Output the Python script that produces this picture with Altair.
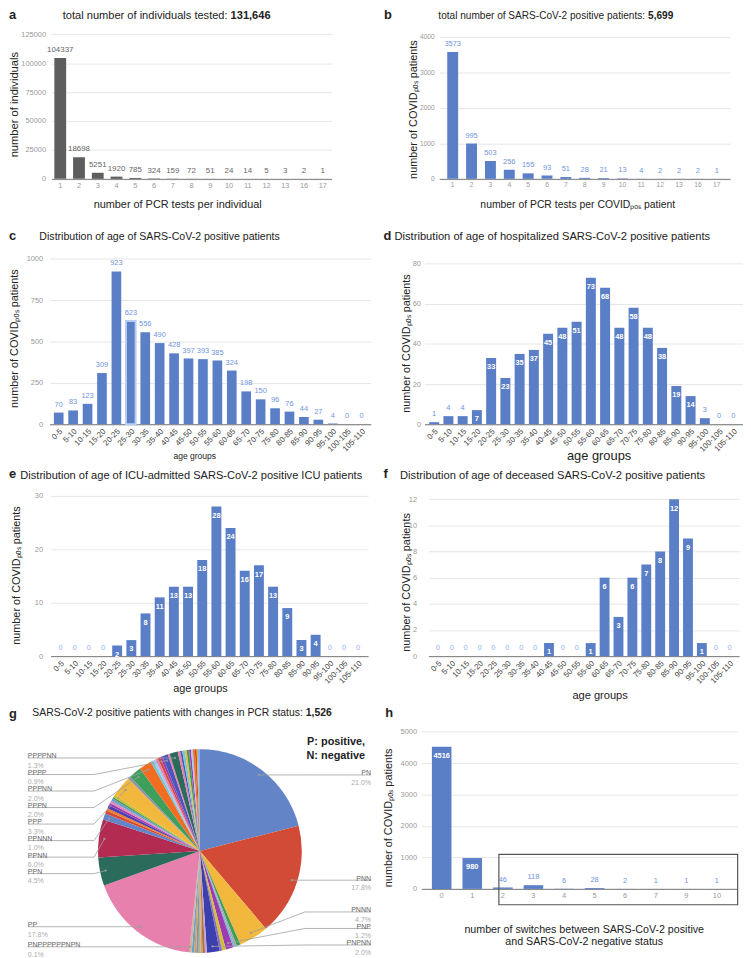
import math
import altair as alt
import pandas as pd

FONT = "Liberation Sans"

# ---------------- data ----------------
pcr_tests = ["1", "2", "3", "4", "5", "6", "7", "8", "9", "10", "11", "12", "13", "16", "17"]
individuals_per_tests = [104337, 18698, 5251, 1920, 785, 324, 159, 72, 51, 24, 14, 5, 3, 2, 1]
positives_per_tests = [3573, 995, 503, 256, 155, 93, 51, 28, 21, 13, 4, 2, 2, 2, 1]

age_groups = ["0-5", "5-10", "10-15", "15-20", "20-25", "25-30", "30-35", "35-40", "40-45",
              "45-50", "50-55", "55-60", "60-65", "65-70", "70-75", "75-80", "80-85", "85-90",
              "90-95", "95-100", "100-105", "105-110"]
age_positive = [70, 83, 123, 309, 923, 623, 556, 490, 428, 397, 393, 385, 324, 198, 150, 96, 76, 44, 27, 4, 0, 0]
age_hospitalized = [1, 4, 4, 7, 33, 23, 35, 37, 45, 48, 51, 73, 68, 48, 58, 48, 38, 19, 14, 3, 0, 0]
age_icu = [0, 0, 0, 0, 2, 3, 8, 11, 13, 13, 18, 28, 24, 16, 17, 13, 9, 3, 4, 0, 0, 0]
age_deceased = [0, 0, 0, 0, 0, 0, 0, 0, 1, 0, 0, 1, 6, 3, 6, 7, 8, 12, 9, 1, 0, 0]

switches = ["0", "1", "2", "3", "4", "5", "6", "7", "9", "10"]
switch_patients = [4516, 980, 46, 118, 6, 28, 2, 1, 1, 1]

# PCR status patterns (clockwise from 12 o'clock); "" = small unlabeled patterns
pattern_names = ["PN", "PNN", "PNNN", "", "", "", "PNP", "", "", "PNPNN",
                 "", "", "", "", "", "", "", "", "PNPPPPPPNPN",
                 "PP", "PPN", "PPNN", "PPNNN",
                 "", "", "", "", "", "", "", "",
                 "PPP", "", "PPPN", "PPPNN",
                 "", "", "", "", "",
                 "PPPP", "", "PPPPNN",
                 "", "", "", "", "", "", "", "", "", "", ""]
pattern_share = [21.0, 17.8, 4.7, 0.6, 0.3, 0.3, 1.2, 0.6, 0.4, 2.0,
                 0.3, 0.4, 0.3, 0.3, 0.4, 0.3, 0.4, 0.3, 0.1,
                 17.8, 4.5, 6.0, 1.0,
                 0.5, 0.4, 0.5, 0.4, 0.4, 0.4, 0.3, 0.4,
                 3.3, 0.4, 2.0, 2.0,
                 0.4, 0.4, 0.4, 0.4, 0.4,
                 0.9, 0.3, 1.3,
                 0.4, 0.3, 0.4, 0.3, 0.4, 0.3, 0.3, 0.3, 0.3, 0.2, 0.3]

# ---------------- styles ----------------
PIE_COLORS = ["#6484c8", "#d14b37", "#f1b83d", "#3e9e5b", "#a3a7ad", "#79b7cf", "#9c3cb4", "#d3c034", "#8a6cc1", "#3c3fae",
              "#c79ee0", "#a9753f", "#e58c6b", "#9ac27a", "#8d8fb2", "#d6a13c", "#6a9fcf", "#c9b3a0", "#b0a06c",
              "#e880ad", "#2b6b5b", "#b42b52", "#6484c8",
              "#d14b37", "#f17c2c", "#4a3fae", "#9c3cb4", "#e08cb8", "#6a9fcf", "#3e9e5b", "#cdbd2a",
              "#f1b83d", "#8d8fb2", "#3e9e5b", "#f26d21",
              "#6fc6d9", "#a9c8f0", "#e880ad", "#d14b37", "#9c3cb4",
              "#4a56b8", "#e880ad", "#2b6b5b",
              "#e880ad", "#4a56b8", "#6fc6d9", "#f1b83d", "#3e9e5b", "#9c3cb4", "#a9c8f0", "#f26d21", "#d14b37", "#cdbd2a", "#7baaf7"]
BLUE = "#5b7fc7"
LBLUE = "#6f95e0"
GRAYBAR = "#5e5e5e"

# layout (page pixels of the reference)
COL_X = [47, 425]
ROW_Y = [25, 245.5, 493, 727]
ROW_B = [175.5, 423, 657, 892.3]
CELL_W = 325
SHIFT_X = 2
T1 = 14  # baseline of the first-row titles


def label(text, x, y, size, weight="normal", align="left", color="#222", baseline="alphabetic"):
    return alt.Chart(pd.DataFrame({"t": [text]})).mark_text(
        align=align, baseline=baseline, fontSize=size, fontWeight=weight, color=color, font=FONT
    ).encode(text="t:N", x=alt.value(x), y=alt.value(y))


def title_pair(plain, bold, x, y, size):
    return [label(plain, x, y, size, align="right"), label(bold, x + 3, y, size, "bold")]


def bar_panel(cats, vals, col, row, x0, x1, ytop, ymax, ystep, *, color=BLUE, pad_in=0.3, pad_out=0.3,
              inside_min=10 ** 9, label_color=LBLUE, label_size=7.5, tick_size=7.5, xtick_size=None,
              ytitle="", ytitle_pos=(0, 0), ytitle_size=11, ylabel_pad=6,
              xtitle="", xtitle_pos=(0, 0), xtitle_size=11, xlabel_angle=0, xlabel_color="#999",
              highlight=None):
    H = ROW_B[row] - ROW_Y[row]
    ox, oy = COL_X[col], ROW_Y[row]
    r0, r1 = x0 - ox, x1 - ox
    df = pd.DataFrame({"cat": cats, "val": vals})
    base = alt.Chart(df)
    xaxis = alt.Axis(title=xtitle, titleX=xtitle_pos[0] - ox, titleY=xtitle_pos[1] - ROW_B[row],
                     titleBaseline="middle", titleFontSize=xtitle_size, titleFontWeight="normal",
                     titleColor="#222", labelAngle=xlabel_angle, labelFontSize=xtick_size or tick_size,
                     labelColor=xlabel_color, labelPadding=3, labelOverlap=False,
                     domainColor="#7a7a7a", ticks=False, grid=False)
    x = alt.X("cat:N", sort=None,
              scale=alt.Scale(domain=cats, range=[r0, r1], paddingInner=pad_in, paddingOuter=pad_out),
              axis=xaxis)
    tvals = list(range(0, ymax + 1, ystep))
    yaxis = alt.Axis(values=tvals, tickCount=len(tvals), format="d", offset=-r0, grid=True,
                     gridColor="#e6e6e6", domain=False, ticks=False, labelFontSize=tick_size,
                     labelColor="#999", labelPadding=ylabel_pad, labelOverlap=False, labelFlush=False,
                     title=ytitle, titleX=ytitle_pos[0] - x0,
                     titleY=ytitle_pos[1] - oy, titleBaseline="middle", titleAngle=270,
                     titleFontSize=ytitle_size, titleFontWeight="normal", titleColor="#222")
    y = alt.Y("val:Q", scale=alt.Scale(domain=[0, ymax], range=[H, ytop - oy], nice=False, zero=True),
              axis=yaxis)
    if highlight is not None:
        bars = base.mark_bar(color=color, strokeWidth=2).encode(
            x=x, y=y,
            stroke=alt.condition(alt.datum.cat == highlight, alt.value("#b9cdf3"), alt.value("transparent")))
    else:
        bars = base.mark_bar(color=color).encode(x=x, y=y)
    above = base.mark_text(dy=-8, fontSize=label_size, color=label_color, font=FONT).encode(
        x=alt.X("cat:N", sort=None), y="val:Q",
        text=alt.condition(alt.datum.val < inside_min, alt.Text("val:Q", format="d"), alt.value("")))
    inside = base.mark_text(dy=9.5, fontSize=label_size, color="white", fontWeight="bold", font=FONT).encode(
        x=alt.X("cat:N", sort=None), y="val:Q",
        text=alt.condition(alt.datum.val >= inside_min, alt.Text("val:Q", format="d"), alt.value("")))
    return [bars, above, inside], H


YT = "number of  COVIDₚₒₛ patients"

# ---- a ----
la, Ha = bar_panel(pcr_tests, individuals_per_tests, 0, 0, 49, 332, 29.3, 125000, 25000,
                   color=GRAYBAR, pad_in=0.37, pad_out=0.15, label_color="#666", label_size=8,
                   ytitle="number of individuals", ytitle_pos=(11.7, 100), ytitle_size=11.3, ylabel_pad=6,
                   xtitle="number of PCR tests per individual", xtitle_pos=(176, 201.5), xtitle_size=11)
pa = alt.layer(*la,
               label("a", 6 - COL_X[0], T1 - ROW_Y[0], 13, "bold"),
               *title_pair("total number of individuals tested:", "131,646", 227 - COL_X[0], T1 - ROW_Y[0], 11.2)
               ).properties(width=CELL_W, height=Ha)

# ---- b ----
lb, Hb = bar_panel(pcr_tests, positives_per_tests, 1, 0, 443, 737, 32, 4000, 1000,
                   pad_in=0.42, pad_out=0.42, tick_size=6.8, ylabel_pad=5,
                   ytitle=YT, ytitle_pos=(416.7, 105), ytitle_size=11,
                   xtitle="number of PCR tests per COVIDₚₒₛ patient", xtitle_pos=(582.5, 201.5), xtitle_size=10.5)
pb = alt.layer(*lb,
               label("b", 387 - COL_X[1], T1 - ROW_Y[0], 13, "bold"),
               *title_pair("total number of SARS-CoV-2 positive patients:", "5,699", 651 - COL_X[1], T1 - ROW_Y[0], 10.2)
               ).properties(width=CELL_W, height=Hb)

# ---- c ----
lc, Hc = bar_panel(age_groups, age_positive, 0, 1, 47, 371.7, 255.7, 1000, 250,
                   pad_in=0.33, pad_out=0.3, ylabel_pad=7, xtick_size=8,
                   ytitle=YT, ytitle_pos=(11.7, 336), ytitle_size=11,
                   xtitle="age groups", xtitle_pos=(193.3, 455), xtitle_size=8.6,
                   xlabel_angle=-45, xlabel_color="#444", highlight="25-30")
pc = alt.layer(*lc,
               label("c", 6 - COL_X[0], 236.7 - ROW_Y[1], 13, "bold"),
               label("Distribution of age of SARS-CoV-2 positive patients", 36.7 - COL_X[0], 237 - ROW_Y[1], 10.7)
               ).properties(width=CELL_W, height=Hc)

# ---- d ----
ld, Hd = bar_panel(age_groups, age_hospitalized, 1, 1, 428, 750, 260.7, 80, 20,
                   pad_in=0.3, pad_out=0.33, inside_min=7, ylabel_pad=4, xtick_size=8,
                   ytitle=YT, ytitle_pos=(410, 341), ytitle_size=11,
                   xtitle="age groups", xtitle_pos=(604, 455), xtitle_size=13,
                   xlabel_angle=-45, xlabel_color="#444")
pdd = alt.layer(*ld,
                label("d", 386.7 - COL_X[1], 236.7 - ROW_Y[1], 13, "bold"),
                label("Distribution of age of hospitalized SARS-CoV-2 positive patients", 397.7 - COL_X[1], 237 - ROW_Y[1], 11.3)
                ).properties(width=CELL_W, height=Hd)

# ---- e ----
le, He = bar_panel(age_groups, age_icu, 0, 2, 48, 369, 495, 30, 10,
                   pad_in=0.3, pad_out=0.35, inside_min=1, label_color="#8fb0ee", ylabel_pad=8, xtick_size=8,
                   ytitle=YT, ytitle_pos=(13.3, 575), ytitle_size=11,
                   xtitle="age groups", xtitle_pos=(199, 689.3), xtitle_size=11,
                   xlabel_angle=-45, xlabel_color="#444")
pe = alt.layer(*le,
               label("e", 6 - COL_X[0], 477.3 - ROW_Y[2], 13, "bold"),
               label("Distribution of age of ICU-admitted SARS-CoV-2 positive ICU patients", 17.5 - COL_X[0], 478 - ROW_Y[2], 11.2)
               ).properties(width=CELL_W, height=He)

# ---- f ----
lf, Hf = bar_panel(age_groups, age_deceased, 1, 2, 432, 746, 498.3, 12, 2,
                   pad_in=0.29, pad_out=0.32, inside_min=1, label_color="#8fb0ee", ylabel_pad=12, xtick_size=8,
                   ytitle=YT, ytitle_pos=(410, 582), ytitle_size=11,
                   xtitle="age groups", xtitle_pos=(605, 696.7), xtitle_size=11.2,
                   xlabel_angle=-45, xlabel_color="#444")
pf = alt.layer(*lf,
               label("f", 386.7 - COL_X[1], 477.3 - ROW_Y[2], 13, "bold"),
               label("Distribution of age of deceased SARS-CoV-2 positive patients", 403.3 - COL_X[1], 478 - ROW_Y[2], 11.3)
               ).properties(width=CELL_W, height=Hf)

# ---- h ----
lh, Hh = bar_panel(switches, switch_patients, 1, 3, 425, 744, 733.3, 5000, 1000,
                   pad_in=0.36, pad_out=0.34, inside_min=500, ylabel_pad=5,
                   ytitle=YT, ytitle_pos=(391.7, 820), ytitle_size=11,
                   xtitle=["number of switches between SARS-CoV-2 positive", "and SARS-CoV-2 negative status"],
                   xtitle_pos=(589, 933), xtitle_size=10.8)
box = alt.Chart(pd.DataFrame({"first": ["2"], "last": ["10"]})).mark_rect(
    filled=False, stroke="#555", strokeWidth=1.2, xOffset=-4, x2Offset=21
).encode(x=alt.X("first:N", sort=None), x2="last:N",
         y=alt.value(857.3 - ROW_Y[3]), y2=alt.value(908.3 - ROW_Y[3]))
ph = alt.layer(*lh, box,
               label("h", 388.3 - COL_X[1], 718.3 - ROW_Y[3], 13, "bold")
               ).properties(width=CELL_W, height=Hh)

# ---- g (pie) ----
ox, oy = COL_X[0], ROW_Y[3]
cx, cy, R = 199 - ox, 854 - oy, 103
n = len(pattern_share)
pie_df = pd.DataFrame({"idx": list(range(n)), "name": pattern_names, "share": pattern_share})
arcs = alt.Chart(pie_df).mark_arc(outerRadius=R).encode(
    theta=alt.Theta("share:Q", stack=True),
    order=alt.Order("idx:Q"),
    color=alt.Color("idx:N", scale=alt.Scale(domain=list(range(n)), range=PIE_COLORS), legend=None),
    x=alt.value(cx), y=alt.value(cy))

total = sum(pattern_share)
cum = 0.0
lab = []
for nm, s in zip(pattern_names, pattern_share):
    mid = (cum + s / 2) / total * 2 * math.pi
    cum += s
    if nm:
        lab.append({"name": nm, "pct": f"{s:.1f}%",
                    "dx": cx + 0.945 * R * math.sin(mid), "dy": cy - 0.945 * R * math.cos(mid),
                    "side": "R" if math.sin(mid) > 0 else "L"})
GAP = 16.7
right = sorted([d for d in lab if d["side"] == "R"], key=lambda d: -d["dy"])
prev = 949 - oy + GAP
for d in right:
    d["ly"] = min(d["dy"], prev - GAP)
    prev = d["ly"]
left = sorted([d for d in lab if d["side"] == "L"], key=lambda d: d["dy"])
prev = -1e9
for d in left:
    d["ly"] = max(d["dy"], prev + GAP)
    prev = d["ly"]
EDGE = {"R": 372 - ox, "L": 25 - ox}
ELBOW = {"R": 305 - ox, "L": 92 - ox}
pts = []
for d in lab:
    pts += [{"name": d["name"], "k": 0, "px": d["dx"], "py": d["dy"]},
            {"name": d["name"], "k": 1, "px": ELBOW[d["side"]], "py": d["ly"]},
            {"name": d["name"], "k": 2, "px": EDGE[d["side"]], "py": d["ly"]}]
lab_df = pd.DataFrame([{**d, "ex": EDGE[d["side"]], "ny": d["ly"] - 1.6, "qy": d["ly"] + 7.9} for d in lab])
lines = alt.Chart(pd.DataFrame(pts)).mark_line(color="#a0a0a0", strokeWidth=0.8).encode(
    x=alt.X("px:Q", scale=None, axis=None), y=alt.Y("py:Q", scale=None, axis=None),
    detail="name:N", order="k:Q")
dots = alt.Chart(lab_df).mark_circle(size=5, color="#9a9a9a", opacity=1).encode(
    x=alt.X("dx:Q", scale=None, axis=None), y=alt.Y("dy:Q", scale=None, axis=None))


def side_text(side, field, ycol, color):
    return alt.Chart(lab_df[lab_df.side == side]).mark_text(
        align="right" if side == "R" else "left", fontSize=7.1, color=color, font=FONT
    ).encode(x=alt.X("ex:Q", scale=None, axis=None), y=alt.Y(ycol + ":Q", scale=None, axis=None),
             text=field + ":N")


pg = alt.layer(arcs, lines, dots,
               side_text("R", "name", "ny", "#666"), side_text("L", "name", "ny", "#666"),
               side_text("R", "pct", "qy", "#aaa"), side_text("L", "pct", "qy", "#aaa"),
               label("P: positive,", 366 - ox, 747 - oy, 11, "bold", align="right"),
               label("N: negative", 366 - ox, 761 - oy, 11, "bold", align="right"),
               label("g", 6 - ox, 720 - oy, 13, "bold"),
               *title_pair("SARS-CoV-2 positive patients with changes in PCR status:", "1,526", 303 - ox, 718 - oy, 10.5)
               ).properties(width=CELL_W, height=Hh)

chart = alt.concat(pa, pb, pc, pdd, pe, pf, pg, ph, columns=2,
                   spacing={"row": 70, "column": COL_X[1] - COL_X[0] - CELL_W - SHIFT_X},
                   bounds="flush", padding={"top": -4, "left": 0, "right": 0, "bottom": 0}
                   ).configure(font=FONT).configure_view(strokeWidth=0)

chart.save("out.html", embed_options={"renderer": "svg", "actions": False})
